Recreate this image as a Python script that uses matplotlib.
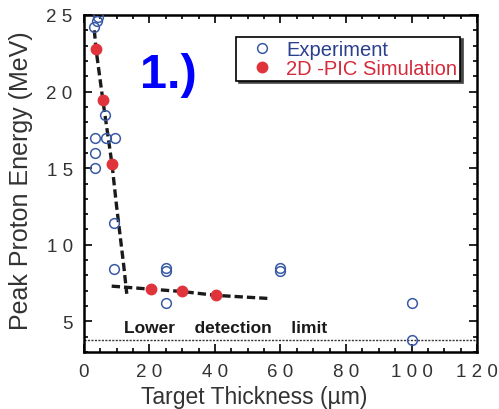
import matplotlib
matplotlib.use('Agg')
import matplotlib.pyplot as plt
from matplotlib.ticker import MultipleLocator

plt.rcParams['font.family'] = ['Liberation Sans', 'DejaVu Sans']

# experiment (open circles)
exp_x = [3.2, 4.0, 4.2, 6.4, 3.4, 6.7, 9.5, 3.4, 3.4, 9.2, 9.2, 25.0, 25.0, 25.0, 60.0, 60.0, 100.0, 100.0]
exp_y = [24.2, 24.6, 24.9, 18.5, 17.0, 17.0, 17.0, 16.0, 15.0, 11.4, 8.4, 8.5, 8.3, 6.2, 8.5, 8.3, 6.2, 3.8]

# 2D-PIC simulation (filled)
sim_x = [3.7, 5.8, 8.6, 20.5, 30.0, 40.2]
sim_y = [22.8, 19.45, 15.25, 7.1, 6.95, 6.7]

# dashed guide lines
fit1_x = [3.2, 3.7, 5.8, 8.6, 10.0, 12.2, 13.1]
fit1_y = [24.0, 22.8, 19.45, 15.25, 12.5, 8.6, 6.8]
fit2_x = [8.5, 20.5, 30.0, 40.2, 56.0]
fit2_y = [7.3, 7.1, 6.95, 6.7, 6.5]

detect_limit = 3.8

xticks = [0, 20, 40, 60, 80, 100, 120]
xticklabels = ['0', '2 0', '4 0', '6 0', '8 0', '1 0 0', '1 2 0']
yticks = [5, 10, 15, 20, 25]
yticklabels = ['5', '1 0', '1 5', '2 0', '2 5']

fig = plt.figure(figsize=(4.99, 4.10), dpi=100)
ax = fig.add_axes([0.168, 0.139, 0.788, 0.822])

ax.axhline(detect_limit, color='#333333', lw=1.0, ls=(0, (1.5, 1)))
ax.plot(fit1_x, fit1_y, color='#1a1a1a', lw=2.4, ls=(0, (2.5, 1.2)), zorder=2)
ax.plot(fit2_x, fit2_y, color='#1a1a1a', lw=2.4, ls=(0, (2.5, 1.2)), zorder=2)

ax.plot(exp_x, exp_y, 'o', ms=7, mfc='none', mec='#3a5aa6', mew=1.1,
        label='Experiment', zorder=3)
ax.plot(sim_x, sim_y, 'o', ms=7.5, mfc='#e0343c', mec='#e0343c',
        label='2D -PIC Simulation', zorder=4)

ax.text(12.2, 4.6, 'Lower    detection    limit', fontsize=12.5, fontweight='bold',
        color='#1a1a1a', va='center')
ax.text(17, 20.3, '1.)', fontsize=35, fontweight='bold', color='#0000ff')

ax.set_xlim(0, 120)
ax.set_ylim(3, 25)
ax.set_xticks(xticks)
ax.set_xticklabels(xticklabels)
ax.set_yticks(yticks)
ax.set_yticklabels(yticklabels)
ax.xaxis.set_minor_locator(MultipleLocator(5))
ax.yaxis.set_minor_locator(MultipleLocator(1))
ax.tick_params(which='both', direction='in', top=True, right=True,
               labelsize=13.5, labelcolor='#333333', width=1.2)
ax.tick_params(which='major', length=6, pad=8)
ax.tick_params(which='minor', length=3)
for s in ax.spines.values():
    s.set_linewidth(1.8)

ax.set_xlabel('Target Thickness (\u00b5m)', fontsize=16.5, color='#333333')
ax.xaxis.set_label_coords(0.434, -0.097)
ax.set_ylabel('Peak Proton Energy (MeV)', fontsize=18, color='#333333')
ax.yaxis.set_label_coords(-0.13, 0.51)

leg = ax.legend(loc='upper right', bbox_to_anchor=(0.957, 0.936), frameon=True,
                fancybox=False, shadow={'color': '#444444', 'alpha': 1.0},
                edgecolor='black', fontsize=14.5, handletextpad=0.05,
                borderpad=0.15, labelspacing=0.0, handlelength=2.3,
                borderaxespad=0)
leg.get_frame().set_linewidth(1.2)
leg.get_texts()[0].set_color('#2a3f8f')
leg.get_texts()[1].set_color('#d42a3a')

fig.savefig('out.png', dpi=100)
